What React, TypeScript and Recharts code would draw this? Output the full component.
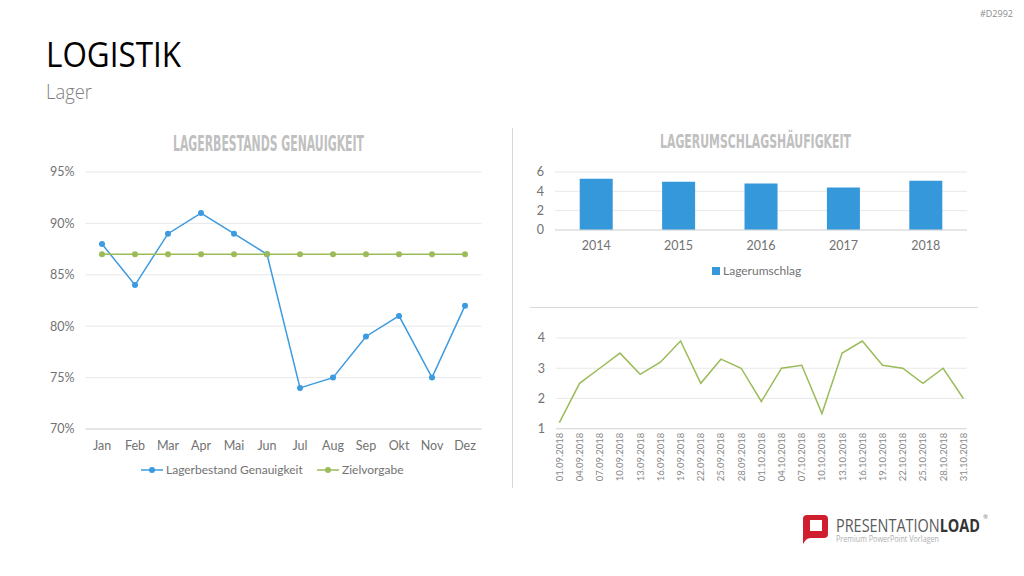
import { LineChart, Line, BarChart, Bar, XAxis, YAxis, CartesianGrid } from 'recharts';

const months = ['Jan', 'Feb', 'Mar', 'Apr', 'Mai', 'Jun', 'Jul', 'Aug', 'Sep', 'Okt', 'Nov', 'Dez'];
const accuracy = [88, 84, 89, 91, 89, 87, 74, 75, 79, 81, 75, 82];
const target = [87, 87, 87, 87, 87, 87, 87, 87, 87, 87, 87, 87];
const accuracyTicks = [70, 75, 80, 85, 90, 95];

const years = ['2014', '2015', '2016', '2017', '2018'];
const turnover = [5.3, 5.0, 4.8, 4.4, 5.1];
const turnoverTicks = [0, 2, 4, 6];

const dates = [
  '01.09.2018', '04.09.2018', '07.09.2018', '10.09.2018', '13.09.2018', '16.09.2018', '19.09.2018',
  '22.09.2018', '25.09.2018', '28.09.2018', '01.10.2018', '04.10.2018', '07.10.2018', '10.10.2018',
  '13.10.2018', '16.10.2018', '19.10.2018', '22.10.2018', '25.10.2018', '28.10.2018', '31.10.2018',
];
const dailyTurnover = [1.2, 2.5, 3.0, 3.5, 2.8, 3.2, 3.9, 2.5, 3.3, 3.0, 1.9, 3.0, 3.1, 1.5, 3.5, 3.9, 3.1, 3.0, 2.5, 3.0, 2.0];
const dailyTicks = [1, 2, 3, 4];

const FONT = 'Lato, "Open Sans", sans-serif';
const HEAD_FONT = '"Open Sans", "Noto Sans", sans-serif';
const TITLE_FONT = '"DejaVu Sans Condensed", "DejaVu Sans", sans-serif';
const BLUE = '#3c9ae0';
const GREEN = '#9bbb59';
const BAR_BLUE = '#3598db';
const TEXT_GREY = '#727272';
const TICK = { fill: TEXT_GREY, fontSize: 12.5, fontFamily: FONT };

const accuracyRows = months.map((month, i) => ({ month, accuracy: accuracy[i], target: target[i] }));
const turnoverRows = years.map((year, i) => ({ year, turnover: turnover[i] }));

// date axis: one slot per calendar day, points placed at their day offset
const toDay = (s: string) => {
  const [d, m, y] = s.split('.').map(Number);
  return Date.UTC(y, m - 1, d) / 86400000;
};
const firstDay = toDay(dates[0]);
const dayIndex = dates.map((s) => toDay(s) - firstDay);
const lastIndex = dayIndex[dayIndex.length - 1];
const dailyRows = dates.map((date, i) => ({ date, day: dayIndex[i], value: dailyTurnover[i] }));
const labelForDay = (day: number) => dates[dayIndex.indexOf(day)] ?? '';

const DateTick = ({ x, y, payload }: any) => (
  <text
    x={x}
    y={y}
    transform={`rotate(-90, ${x}, ${y})`}
    textAnchor="end"
    dominantBaseline="central"
    fill="#8a8a8a"
    fontSize={9.5}
    fontFamily={FONT}
  >
    {labelForDay(payload.value)}
  </text>
);

const LineKey = ({ color, label, left, top }: { color: string; label: string; left: number; top: number }) => (
  <div style={{ position: 'absolute', left, top, display: 'flex', alignItems: 'center', fontFamily: FONT, fontSize: 12, color: TEXT_GREY }}>
    <svg width={24} height={10} style={{ marginRight: 1 }}>
      <line x1={0} y1={5} x2={22} y2={5} stroke={color} strokeWidth={1.5} />
      <circle cx={11} cy={5} r={3} fill={color} />
    </svg>
    {label}
  </div>
);

const ChartTitle = ({ text, cx, baseline, width, size }: { text: string; cx: number; baseline: number; width: number; size: number }) => (
  <svg style={{ position: 'absolute', left: cx - width / 2 - 150, top: baseline - 30 }} width={width + 300} height={40}>
    <text
      x={150}
      y={30}
      textLength={width}
      lengthAdjust="spacingAndGlyphs"
      fontFamily={TITLE_FONT}
      fontWeight="bold"
      fontSize={size}
      fill="#c0c0c0"
    >
      {text}
    </text>
  </svg>
);

const Logo = () => (
  <svg style={{ position: 'absolute', left: 796, top: 508 }} width={220} height={44}>
    <path d="M11 7 h17 a4 4 0 0 1 4 4 v15 a4 4 0 0 1 -4 4 h-13 q-4 0 -6 3 l-2 3 q0 -2 -0 -4 v-21 a4 4 0 0 1 4 -4 z" fill="#cf1f2e" />
    <rect x={14} y={12} width={12} height={11} fill="#ffffff" />
    <text x={40} y={24} textLength={144} lengthAdjust="spacingAndGlyphs" fontFamily={HEAD_FONT} fontSize={18} fill="#5a5a5a">
      PRESENTATION<tspan fontWeight="bold" fill="#333333">LOAD</tspan>
    </text>
    <text x={187} y={11} fontFamily={HEAD_FONT} fontSize={6} fill="#777777">®</text>
    <text x={40} y={34} textLength={103} lengthAdjust="spacingAndGlyphs" fontFamily={HEAD_FONT} fontSize={8.5} fill="#b0b0b0">
      Premium PowerPoint Vorlagen
    </text>
  </svg>
);

export default function App() {
  return (
    <div style={{ position: 'fixed', left: 0, top: 0, width: 1024, height: 576, background: '#ffffff', overflow: 'hidden' }}>
      <div style={{ position: 'absolute', left: 980, top: 7, fontFamily: HEAD_FONT, fontSize: 9, color: '#8c8c8c' }}>#D2992</div>

      <svg style={{ position: 'absolute', left: 0, top: 0 }} width={400} height={110}>
        <text x={46} y={67} textLength={135} lengthAdjust="spacingAndGlyphs" fontFamily={HEAD_FONT} fontSize={34} fill="#000000">
          LOGISTIK
        </text>
        <text x={46} y={98.5} textLength={46} lengthAdjust="spacingAndGlyphs" fontFamily={HEAD_FONT} fontWeight={300} fontSize={21} fill="#808080">
          Lager
        </text>
      </svg>

      <ChartTitle text="LAGERBESTANDS GENAUIGKEIT" cx={268.7} baseline={150.5} width={191} size={21} />
      <ChartTitle text="LAGERUMSCHLAGSHÄUFIGKEIT" cx={755} baseline={147.5} width={191} size={19.5} />

      <div style={{ position: 'absolute', left: 512, top: 128, width: 1, height: 360, background: '#d9d9d9' }} />
      <div style={{ position: 'absolute', left: 530, top: 307, width: 448, height: 1, background: '#d9d9d9' }} />

      {/* monthly inventory accuracy vs. target */}
      <div style={{ position: 'absolute', left: 0, top: 160 }}>
        <LineChart width={500} height={300} data={accuracyRows} margin={{ top: 12, right: 18.5, left: 0, bottom: 0 }}>
          <CartesianGrid vertical={false} stroke="#e8e8e8" />
          <XAxis
            dataKey="month"
            interval={0}
            padding={{ left: 16.5, right: 16.5 }}
            axisLine={{ stroke: '#d9d9d9' }}
            tickLine={false}
            tickSize={0}
            tickMargin={12}
            tick={TICK}
            height={31}
          />
          <YAxis
            domain={[70, 95]}
            ticks={accuracyTicks}
            interval={0}
            tickFormatter={(v: number) => `${v}%`}
            axisLine={false}
            tickLine={false}
            tickSize={0}
            tickMargin={11}
            tick={TICK}
            width={85.5}
          />
          <Line dataKey="accuracy" stroke={BLUE} strokeWidth={1.5} dot={{ r: 3, fill: BLUE, stroke: BLUE, strokeWidth: 0 }} isAnimationActive={false} />
          <Line dataKey="target" stroke={GREEN} strokeWidth={1.5} dot={{ r: 3, fill: GREEN, stroke: GREEN, strokeWidth: 0 }} isAnimationActive={false} />
        </LineChart>
      </div>
      <LineKey color={BLUE} label="Lagerbestand Genauigkeit" left={141} top={462} />
      <LineKey color={GREEN} label="Zielvorgabe" left={317} top={462} />

      {/* yearly turnover rate */}
      <div style={{ position: 'absolute', left: 520, top: 160 }}>
        <BarChart width={470} height={100} data={turnoverRows} barCategoryGap="30%" margin={{ top: 12, right: 23, left: 0, bottom: 0 }}>
          <CartesianGrid vertical={false} stroke="#e8e8e8" />
          <XAxis dataKey="year" interval={0} axisLine={{ stroke: '#d9d9d9' }} tickLine={false} tickSize={0} tickMargin={11} tick={TICK} height={30} />
          <YAxis domain={[0, 6]} ticks={turnoverTicks} interval={0} axisLine={false} tickLine={false} tickSize={0} tickMargin={11} tick={TICK} width={35} />
          <Bar dataKey="turnover" fill={BAR_BLUE} isAnimationActive={false} />
        </BarChart>
      </div>
      <div style={{ position: 'absolute', left: 712, top: 263, display: 'flex', alignItems: 'center', fontFamily: FONT, fontSize: 12, color: TEXT_GREY }}>
        <div style={{ width: 8, height: 8, background: BAR_BLUE, marginRight: 3 }} />
        Lagerumschlag
      </div>

      {/* daily turnover Sep–Oct 2018 */}
      <div style={{ position: 'absolute', left: 520, top: 320 }}>
        <LineChart width={470} height={170} data={dailyRows} margin={{ top: 18, right: 23.3, left: 0, bottom: 0 }}>
          <CartesianGrid vertical={false} stroke="#e8e8e8" />
          <XAxis
            dataKey="day"
            type="number"
            domain={[-0.5, lastIndex + 0.5]}
            ticks={dayIndex}
            interval={0}
            axisLine={{ stroke: '#d9d9d9' }}
            tickLine={false}
            tickSize={0}
            tickMargin={4}
            tick={<DateTick />}
            height={61.3}
          />
          <YAxis domain={[1, 4]} ticks={dailyTicks} interval={0} axisLine={false} tickLine={false} tickSize={0} tickMargin={11} tick={TICK} width={36} />
          <Line dataKey="value" stroke={GREEN} strokeWidth={1.5} dot={false} isAnimationActive={false} />
        </LineChart>
      </div>

      <Logo />
    </div>
  );
}
